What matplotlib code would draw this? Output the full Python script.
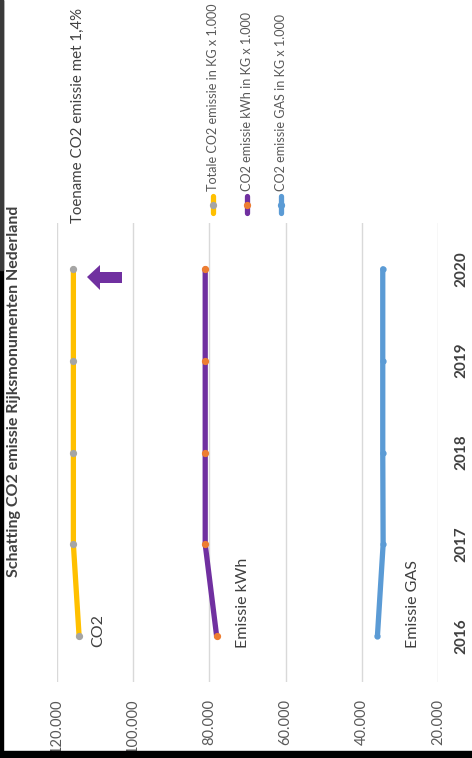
import numpy as np
import matplotlib.pyplot as plt
from matplotlib.lines import Line2D
from matplotlib.patches import Polygon, Rectangle
import matplotlib.ticker as ticker

years = ["2016", "2017", "2018", "2019", "2020"]
totaal = [114200, 115700, 115700, 115700, 115700]
kwh = [78100, 81100, 81100, 81100, 81100]
gas = [35900, 34400, 34500, 34500, 34500]
value_ticks = [120000, 100000, 80000, 60000, 40000, 20000]

W, H = 472, 758
plt.rcParams['font.family'] = ['Lato', 'DejaVu Sans']


def fx(px):
    return px / W


def fy(py):
    return 1 - py / H


fig = plt.figure(figsize=(W / 100, H / 100), dpi=100)
fig.patch.set_facecolor('white')

# plot area (chart is rotated: values run horizontally, years vertically)
ax = fig.add_axes([fx(57), fy(682), fx(438) - fx(57), fy(223) - fy(682)])
ax.set_xlim(120000, 20000)
ax.set_ylim(-0.5, 4.5)
for s in ax.spines.values():
    s.set_visible(False)

ax.xaxis.set_major_locator(ticker.FixedLocator(value_ticks))
ax.xaxis.set_major_formatter(ticker.FuncFormatter(lambda v, p: f"{int(v):,}".replace(",", ".")))
ax.grid(axis='x', color='#d9d9d9', linewidth=1)
ax.set_axisbelow(True)
ax.tick_params(axis='x', length=0, pad=12, labelsize=10.5, labelcolor='#595959', labelrotation=90)

idx = np.arange(len(years))
ax.yaxis.tick_right()
ax.set_yticks(idx)
ax.set_yticklabels(years, rotation=90, va='center', fontweight='bold')
ax.tick_params(axis='y', length=0, pad=12, labelsize=11, labelcolor='#404040')

yellow, purple, blue = '#FFC000', '#7030A0', '#5B9BD5'
ax.plot(totaal, idx, color=yellow, lw=3.8, marker='o', ms=4.2, mfc='#A5A5A5', mec='#A5A5A5',
        solid_capstyle='round', zorder=3)
ax.plot(kwh, idx, color=purple, lw=3.8, marker='o', ms=4.2, mfc='#ED7D31', mec='#ED7D31',
        solid_capstyle='round', zorder=3)
ax.plot(gas, idx, color=blue, lw=3.8, marker='o', ms=3.5, mfc=blue, mec=blue,
        solid_capstyle='round', zorder=3)

# title and annotations
txt = '#404040'
fig.text(fx(14), fy(391), "Schatting CO2 emissie Rijksmonumenten Nederland", rotation=90,
         ha='center', va='center', fontsize=11.5, fontweight='bold', color=txt)
fig.text(fx(78), fy(223), "Toename CO2 emissie met 1,4%", rotation=90,
         ha='center', va='bottom', fontsize=10.8, color=txt)
fig.text(fx(98), fy(647), "CO2", rotation=90, ha='center', va='bottom', fontsize=11.5, color=txt)
fig.text(fx(243), fy(648), "Emissie kWh", rotation=90, ha='center', va='bottom', fontsize=11.5, color=txt)
fig.text(fx(413), fy(648), "Emissie GAS", rotation=90, ha='center', va='bottom', fontsize=11.5, color=txt)

# arrow
arrow = [(87, 277), (100, 265), (100, 272), (122, 272), (122, 283), (100, 283), (100, 290)]
fig.add_artist(Polygon([(fx(a), fy(b)) for a, b in arrow], closed=True,
                       transform=fig.transFigure, facecolor=purple, edgecolor='none'))

# legend
legend = [("Totale CO2 emissie in KG x 1.000", yellow, '#A5A5A5', 213),
          ("CO2 emissie kWh in KG x 1.000", purple, '#ED7D31', 247),
          ("CO2 emissie GAS in KG x 1.000", blue, blue, 281)]
for label, lc, mc, px in legend:
    fig.add_artist(Line2D([fx(px), fx(px)], [fy(213), fy(196)], transform=fig.transFigure,
                          color=lc, lw=3.8, solid_capstyle='round'))
    fig.add_artist(Line2D([fx(px)], [fy(204.5)], transform=fig.transFigure,
                          marker='o', ms=4.2, color=mc, lw=0))
    fig.text(fx(px), fy(191), label, rotation=90, ha='center', va='bottom',
             fontsize=9.1, color='#595959')

# dark screen borders
fig.add_artist(Rectangle((0, 0), 1, fy(751), transform=fig.transFigure, color='black', zorder=10))
fig.add_artist(Rectangle((0, 0), fx(3), 1, transform=fig.transFigure, color='black', zorder=10))
fig.add_artist(Rectangle((0, fy(270)), fx(3), 1 - fy(270), transform=fig.transFigure,
                         color='#3a3a3a', zorder=10))

fig.savefig("out.png", dpi=100)
